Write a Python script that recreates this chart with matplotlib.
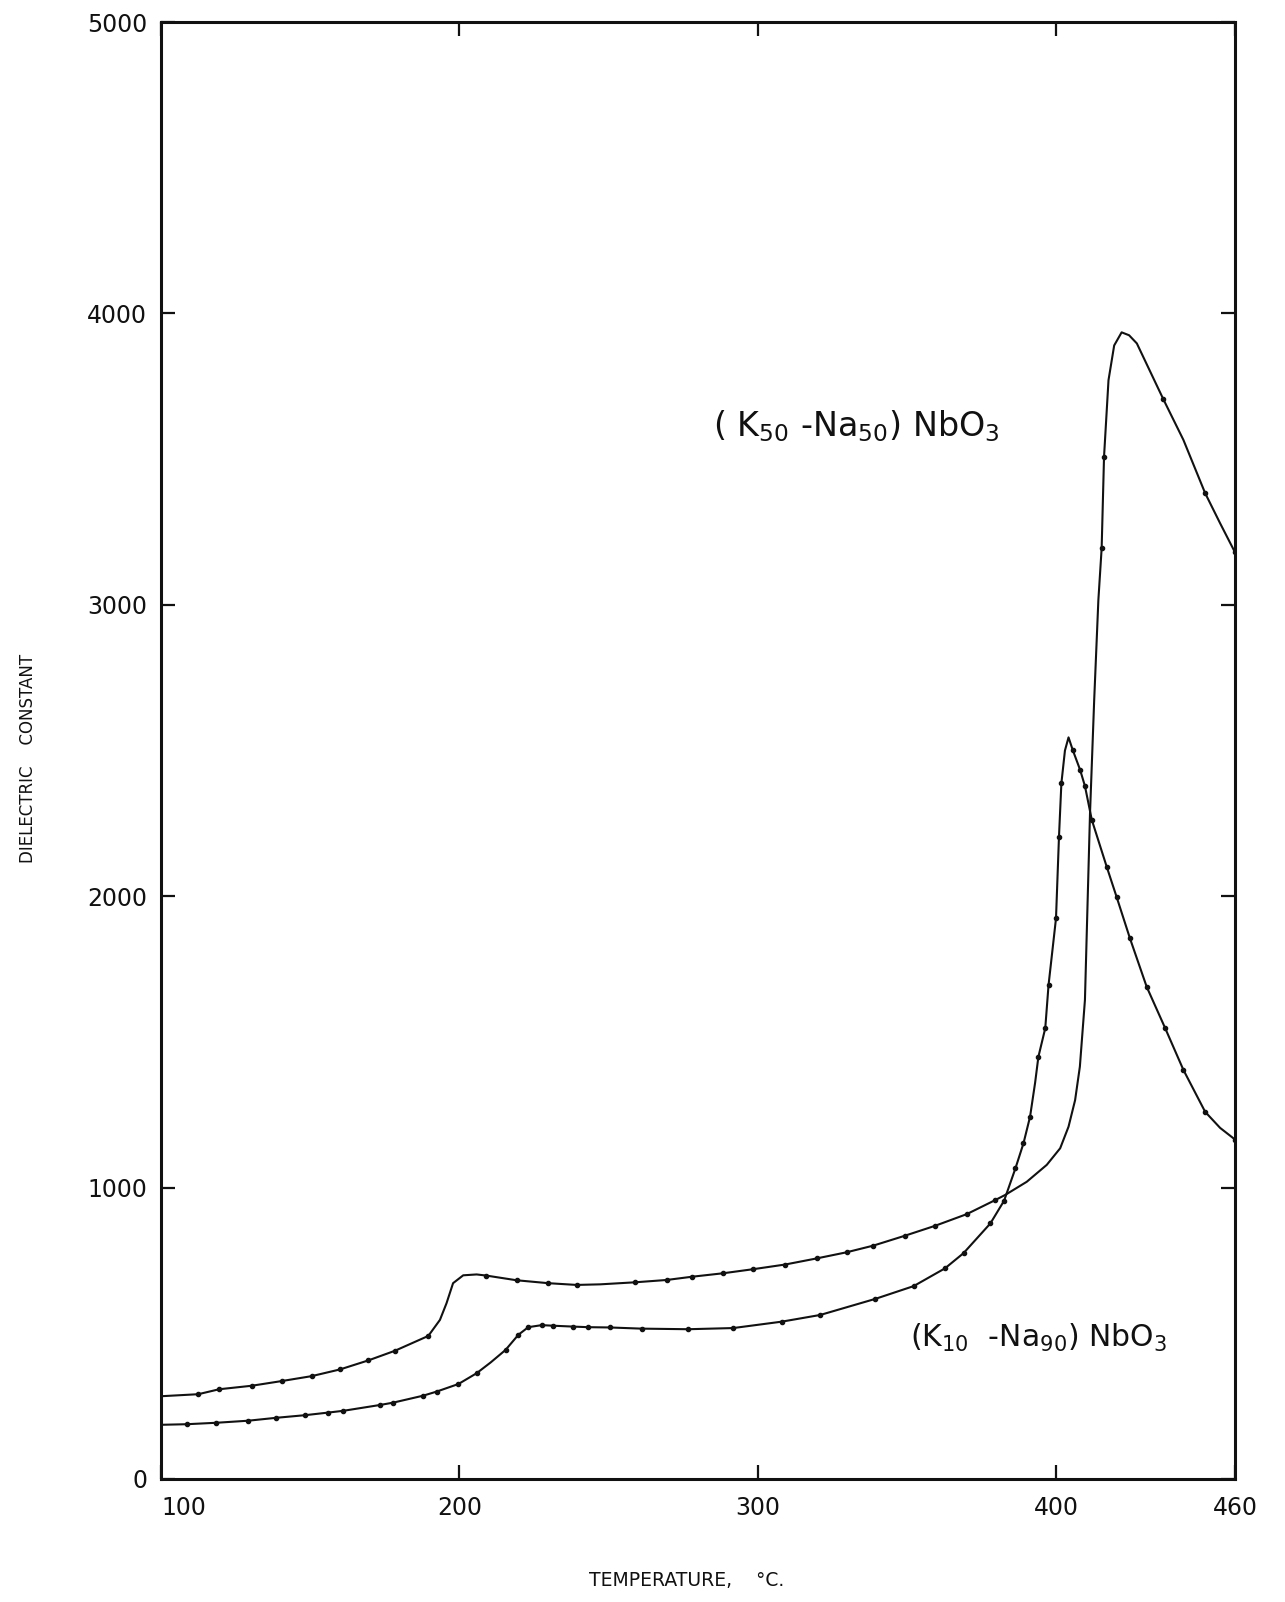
import matplotlib
matplotlib.use("Agg")
import matplotlib.pyplot as plt

plt.rcParams["font.family"] = ["DejaVu Sans"]
plt.rcParams["mathtext.default"] = "regular"

# (K50-Na50)NbO3 : traced curve
k50_temp = [100, 112.5, 119.5, 130.4, 140.4, 150.5, 160, 169.5, 178.4, 189.6,
            193.5, 195.7, 197.9, 201.3, 205.8, 209.1, 219.2, 229.8, 239.3, 247.2,
            258.9, 269.5, 277.9, 288.4, 298.5, 309.2, 319.8, 329.8, 338.8, 349.4,
            359.5, 370.1, 379.6, 383.0, 390.2, 396.9, 401.4, 404.2, 406.4, 408.0,
            409.7, 411.4, 412.8, 414.2, 415.3, 416.1, 417.6, 419.5, 422.0, 424.5,
            427.1, 436.0, 442.7, 450.0, 455.0, 460]
k50_eps = [284, 291, 308, 320, 336, 353, 376, 407, 440, 491,
           546, 603, 672, 699, 702, 698, 682, 672, 666, 668,
           675, 683, 694, 706, 720, 736, 757, 778, 801, 835,
           869, 909, 957, 975, 1020, 1078, 1135, 1209, 1300, 1415,
           1644, 2284, 2673, 3016, 3194, 3508, 3771, 3890, 3935, 3925,
           3897, 3705, 3566, 3383, 3280, 3180]
# (K50-Na50)NbO3 : measured points
k50_pts_temp = [112.5, 119.5, 130.4, 140.4, 150.5, 160, 169.5, 178.4, 189.6,
                209.1, 219.2, 229.8, 239.3, 258.9, 269.5, 277.9, 288.4, 298.5,
                309.2, 319.8, 329.8, 338.8, 349.4, 359.5, 370.1, 379.6,
                415.3, 416.1, 436.0, 450.0, 460]
k50_pts_eps = [291, 308, 320, 336, 353, 376, 407, 440, 491,
               698, 682, 672, 666, 675, 683, 694, 706, 720,
               736, 757, 778, 801, 835, 869, 909, 957,
               3194, 3508, 3705, 3383, 3180]

# (K10-Na90)NbO3 : traced curve
k10_temp = [100, 108.6, 118.6, 129.2, 138.6, 148.3, 156.1, 161.1, 173.4, 177.8,
            187.9, 192.4, 199.7, 205.8, 210.5, 215.5, 219.8, 223.1, 227.6, 231.5,
            238.2, 243.2, 250.5, 261.1, 276.7, 291.8, 308.1, 321.0, 339.4, 352.3,
            362.8, 369.0, 378.0, 382.6, 386.4, 389.1, 391.3, 393.0, 394.1, 396.4,
            397.5, 400.0, 401.0, 401.8, 403.0, 404.2, 405.6, 408.1, 409.7, 412.0,
            417.0, 420.3, 424.8, 430.4, 436.6, 442.7, 450.0, 455.0, 460]
k10_eps = [186, 188, 193, 200, 210, 219, 228, 234, 254, 262,
           286, 300, 326, 363, 400, 443, 495, 521, 528, 526,
           523, 521, 520, 516, 514, 518, 540, 563, 618, 662,
           723, 775, 877, 955, 1066, 1152, 1243, 1360, 1449, 1547,
           1695, 1924, 2204, 2387, 2500, 2545, 2502, 2433, 2378, 2262,
           2101, 1998, 1855, 1689, 1547, 1404, 1260, 1205, 1165]
# (K10-Na90)NbO3 : measured points
k10_pts_temp = [108.6, 118.6, 129.2, 138.6, 148.3, 156.1, 161.1, 173.4, 177.8,
                187.9, 192.4, 199.7, 205.8, 215.5, 219.8, 223.1, 227.6, 231.5,
                238.2, 243.2, 250.5, 261.1, 276.7, 291.8, 308.1, 321.0, 339.4,
                352.3, 362.8, 369.0, 378.0, 382.6, 386.4, 389.1, 391.3, 394.1,
                396.4, 397.5, 400.0, 401.0, 401.8, 405.6, 408.1, 409.7, 412.0,
                417.0, 420.3, 424.8, 430.4, 436.6, 442.7, 450.0, 460]
k10_pts_eps = [188, 193, 200, 210, 219, 228, 234, 254, 262,
               286, 300, 326, 363, 443, 495, 521, 528, 526,
               523, 521, 520, 516, 514, 518, 540, 563, 618,
               662, 723, 775, 877, 955, 1066, 1152, 1243, 1449,
               1547, 1695, 1924, 2204, 2387, 2502, 2433, 2378, 2262,
               2101, 1998, 1855, 1689, 1547, 1404, 1260, 1165]

x_ticks = [100, 200, 300, 400, 460]
x_tick_labels = ["100", "200", "300", "400", "460"]
y_ticks = [0, 1000, 2000, 3000, 4000, 5000]
y_tick_labels = ["0", "1000", "2000", "3000", "4000", "5000"]

W, H = 1285, 1602
fig = plt.figure(figsize=(W / 100, H / 100), dpi=100)
ax = fig.add_axes([161 / W, 1 - 1479 / H, (1235 - 161) / W, (1479 - 22) / H])

ink = "#111111"
for temp, eps, pt, pe in [(k50_temp, k50_eps, k50_pts_temp, k50_pts_eps),
                          (k10_temp, k10_eps, k10_pts_temp, k10_pts_eps)]:
    ax.plot(temp, eps, color=ink, lw=1.5, solid_capstyle="round")
    ax.plot(pt, pe, ls="none", marker="o", ms=3.0, color=ink)

ax.set_xlim(100, 460)
ax.set_ylim(0, 5000)
ax.set_xticks(x_ticks)
ax.set_xticklabels(x_tick_labels)
ax.set_yticks(y_ticks)
ax.set_yticklabels(y_tick_labels)
ax.xaxis.get_majorticklabels()[0].set_horizontalalignment("left")

ax.tick_params(direction="in", length=10, width=1.6, colors=ink,
               top=True, right=True, labelsize=17)
ax.tick_params(axis="x", pad=12)
ax.tick_params(axis="y", pad=10)
for sp in ax.spines.values():
    sp.set_linewidth(2.2)
    sp.set_color(ink)

ax.text(285, 3577, "( K$_{50}$ -Na$_{50}$) NbO$_3$", fontsize=24,
        color=ink, ha="left", va="baseline")
ax.text(351, 454, "(K$_{10}$  -Na$_{90}$) NbO$_3$", fontsize=21.5,
        color=ink, ha="left", va="baseline")

fig.text(28 / W, 1 - 758 / H, "DIELECTRIC    CONSTANT", rotation=90,
         fontsize=12, color=ink, ha="center", va="center")
fig.text(687 / W, 1 - 1581 / H, "TEMPERATURE,    °C.", fontsize=13.5,
         color=ink, ha="center", va="center")

fig.savefig("out.png", dpi=100, facecolor="white")
